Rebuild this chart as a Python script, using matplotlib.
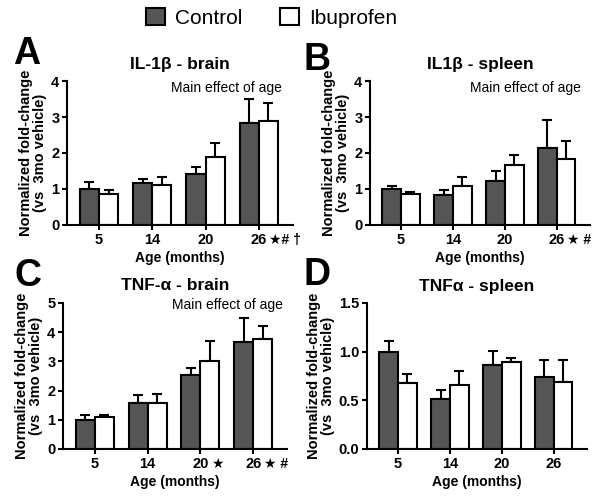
import numpy as np
import matplotlib
matplotlib.use("Agg")
import matplotlib.pyplot as plt
from matplotlib.patches import Patch

plt.rcParams['font.family'] = ['Liberation Sans', 'DejaVu Sans']

ages = ["5", "14", "20", "26"]

# panel A: IL-1b brain
a_ctrl = [1.00, 1.17, 1.42, 2.83]
a_ctrl_err = [0.20, 0.11, 0.18, 0.67]
a_ibu = [0.85, 1.12, 1.90, 2.90]
a_ibu_err = [0.12, 0.20, 0.38, 0.48]
a_marks = ["", "", "", "\u2605# \u2020"]

# panel B: IL1b spleen
b_ctrl = [1.00, 0.82, 1.22, 2.14]
b_ctrl_err = [0.07, 0.16, 0.28, 0.79]
b_ibu = [0.85, 1.07, 1.68, 1.83]
b_ibu_err = [0.07, 0.25, 0.27, 0.51]
b_marks = ["", "", "", "\u2605 #"]

# panel C: TNF-a brain
c_ctrl = [1.00, 1.57, 2.52, 3.65]
c_ctrl_err = [0.15, 0.28, 0.27, 0.83]
c_ibu = [1.08, 1.57, 3.03, 3.78]
c_ibu_err = [0.07, 0.30, 0.67, 0.42]
c_marks = ["", "", "\u2605", "\u2605 #"]

# panel D: TNFa spleen
d_ctrl = [1.00, 0.51, 0.86, 0.74]
d_ctrl_err = [0.11, 0.10, 0.15, 0.17]
d_ibu = [0.68, 0.66, 0.89, 0.69]
d_ibu_err = [0.09, 0.14, 0.04, 0.22]
d_marks = ["", "", "", ""]

ctrl_color = "#555555"
bar_w = 0.36

fig = plt.figure(figsize=(6.0, 5.03), dpi=100)


def panel(rect, title, ctrl, ctrl_err, ibu, ibu_err, marks, yticks, yfmt,
          letter, letter_xy, note_xy=None):
    ax = fig.add_axes(rect)
    x = np.arange(len(ages))
    ax.bar(x - bar_w / 2, ctrl, bar_w, color=ctrl_color, edgecolor="black",
           linewidth=1.5, zorder=2)
    ax.bar(x + bar_w / 2, ibu, bar_w, color="white", edgecolor="black",
           linewidth=1.5, zorder=2)
    ax.errorbar(x - bar_w / 2, ctrl, yerr=[np.zeros(4), ctrl_err], fmt="none",
                ecolor="black", elinewidth=1.5, capsize=3.5, capthick=1.5, zorder=1)
    ax.errorbar(x + bar_w / 2, ibu, yerr=[np.zeros(4), ibu_err], fmt="none",
                ecolor="black", elinewidth=1.5, capsize=3.5, capthick=1.5, zorder=1)
    ax.set_xlim(-0.6, 3.64)
    ax.set_ylim(0, yticks[-1])
    ax.set_yticks(yticks)
    ax.set_yticklabels([yfmt.format(v) for v in yticks])
    ax.set_xticks(x)
    ax.set_xticklabels(ages)
    for i, m in enumerate(marks):
        if m:
            ax.annotate(m, xy=(x[i], 0), xycoords=("data", "axes fraction"),
                        xytext=(7.5, -5.5), textcoords="offset points",
                        ha="left", va="top", fontsize=10, fontweight="bold")
    for s in ["top", "right"]:
        ax.spines[s].set_visible(False)
    for s in ["left", "bottom"]:
        ax.spines[s].set_linewidth(1.5)
    ax.tick_params(axis="both", width=1.5, length=3.5, labelsize=10.5, pad=2)
    for lab in ax.get_xticklabels() + ax.get_yticklabels():
        lab.set_fontweight("bold")
    ax.set_title(title, fontsize=12.5, fontweight="bold", pad=9)
    ax.set_ylabel("Normalized fold-change\n(vs  3mo vehicle)", fontsize=10.5,
                  fontweight="bold", labelpad=3, linespacing=1.0)
    ax.set_xlabel("Age (months)", fontsize=10, fontweight="bold", labelpad=3)
    if note_xy is not None:
        ax.text(note_xy[0], note_xy[1], "Main effect of age",
                transform=ax.transAxes, ha="right", va="center", fontsize=10)
    fig.text(letter_xy[0] / 600, 1 - letter_xy[1] / 503, letter, fontsize=27,
             fontweight="bold", ha="center", va="center")
    return ax


panel([67 / 600, 1 - 225 / 503, 226 / 600, 144 / 503], "IL-1\u03b2 - brain",
      a_ctrl, a_ctrl_err, a_ibu, a_ibu_err, a_marks, [0, 1, 2, 3, 4], "{:g}",
      "A", (27, 54), note_xy=(0.95, 0.95))
panel([370 / 600, 1 - 225 / 503, 220 / 600, 144 / 503], "IL1\u03b2 - spleen",
      b_ctrl, b_ctrl_err, b_ibu, b_ibu_err, b_marks, [0, 1, 2, 3, 4], "{:g}",
      "B", (317, 60), note_xy=(0.96, 0.95))
panel([63 / 600, 1 - 449 / 503, 224 / 600, 146 / 503], "TNF-\u03b1 - brain",
      c_ctrl, c_ctrl_err, c_ibu, c_ibu_err, c_marks, [0, 1, 2, 3, 4, 5], "{:g}",
      "C", (28, 276), note_xy=(0.98, 0.985))
panel([367 / 600, 1 - 449 / 503, 220 / 600, 146 / 503], "TNF\u03b1 - spleen",
      d_ctrl, d_ctrl_err, d_ibu, d_ibu_err, d_marks, [0.0, 0.5, 1.0, 1.5], "{:.1f}",
      "D", (317, 275))

handles = [Patch(facecolor=ctrl_color, edgecolor="black", linewidth=1.5),
           Patch(facecolor="white", edgecolor="black", linewidth=1.5)]
fig.legend(handles, ["Control", "Ibuprofen"], loc="center",
           bbox_to_anchor=(272 / 600, 1 - 18 / 503), ncol=2, frameon=False,
           fontsize=15, handlelength=0.9, handleheight=0.9, handletextpad=0.5,
           columnspacing=1.8)

fig.savefig("out.png", dpi=100)
